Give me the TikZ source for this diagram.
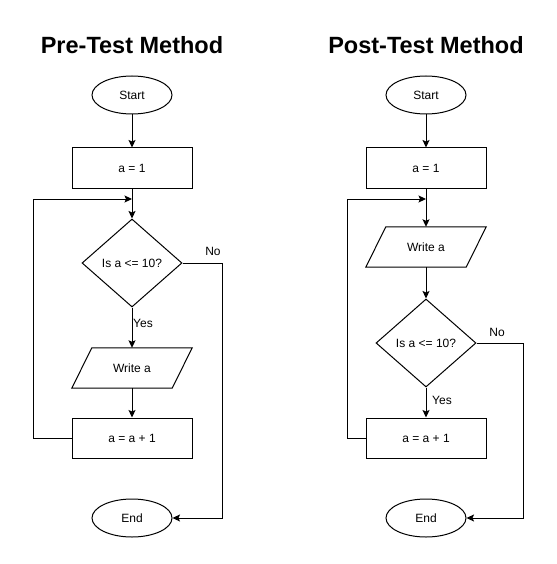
\documentclass[tikz,border=0pt]{standalone}
\usepackage{fontspec}
\setmainfont{Liberation Sans}
\usetikzlibrary{shapes.geometric,arrows.meta,calc}
\begin{document}
\begin{tikzpicture}[x=1pt,y=-1pt,
  base/.style={draw=black,line width=1pt,font=\fontsize{12}{14}\selectfont,inner sep=0pt},
  term/.style={base,ellipse,minimum width=80pt,minimum height=38pt},
  proc/.style={base,rectangle,minimum width=120pt,minimum height=40pt},
  dec/.style={base,diamond,minimum width=100pt,minimum height=88pt},
  io/.style={rectangle,inner sep=0pt,minimum width=100pt,minimum height=40pt,font=\fontsize{12}{14}\selectfont},
  para/.style={draw=black,line width=1pt},
  arr/.style={draw=black,line width=1pt,-{Stealth[length=7.5pt,width=7pt,inset=1.5pt]}},
  lbl/.style={font=\fontsize{12}{14}\selectfont,inner sep=0pt},
  ttl/.style={font=\fontsize{23.5}{27}\selectfont\bfseries,inner sep=0pt}
]
\useasboundingbox[fill=white] (0,0) rectangle (556,564);

% ---------- Pre-Test ----------
\node[ttl] (t1) at (132,45) {Pre-Test Method};
\node[term] (s1) at (132,95) {Start};
\node[proc] (a1) at (132,168) {a = 1};
\node[dec]  (d1) at (132,263) {Is a <= 10?};
\node[io]   (w1) at (132,368) {Write a};
\draw[para] ($(w1.south west)+(-10,0)$) -- ($(w1.north west)+(10,0)$) -- ($(w1.north east)+(10,0)$) -- ($(w1.south east)+(-10,0)$) -- cycle;
\node[proc] (i1) at (132,438) {a = a + 1};
\node[term] (e1) at (132,518) {End};

\draw[arr] (s1) -- (a1);
\draw[arr] (a1) -- (d1);
\draw[arr] (d1) -- (w1);
\draw[arr] (w1) -- (i1);
\coordinate (l1) at (33,199);
\coordinate (j1) at (132,199);
\draw[arr] (i1.west) -| (l1) -- (j1);
\coordinate (n1) at (222,518);
\draw[arr] (d1.east) -| (n1) -- (e1);
\node[lbl,anchor=west] (y1) at (133,323) {Yes};
\node[lbl] (no1) at (213,251) {No};

% ---------- Post-Test ----------
\node[ttl] (t2) at (426,45) {Post-Test Method};
\node[term] (s2) at (426,95) {Start};
\node[proc] (a2) at (426,168) {a = 1};
\node[io]   (w2) at (426,247) {Write a};
\draw[para] ($(w2.south west)+(-10,0)$) -- ($(w2.north west)+(10,0)$) -- ($(w2.north east)+(10,0)$) -- ($(w2.south east)+(-10,0)$) -- cycle;
\node[dec]  (d2) at (426,343) {Is a <= 10?};
\node[proc] (i2) at (426,438) {a = a + 1};
\node[term] (e2) at (426,518) {End};

\draw[arr] (s2) -- (a2);
\draw[arr] (a2) -- (w2);
\draw[arr] (w2) -- (d2);
\draw[arr] (d2) -- (i2);
\coordinate (l2) at (347,199);
\coordinate (j2) at (426,199);
\draw[arr] (i2.west) -| (l2) -- (j2);
\coordinate (n2) at (523,518);
\draw[arr] (d2.east) -| (n2) -- (e2);
\node[lbl,anchor=west] (y2) at (432,400) {Yes};
\node[lbl] (no2) at (497,332) {No};
\end{tikzpicture}
\end{document}
